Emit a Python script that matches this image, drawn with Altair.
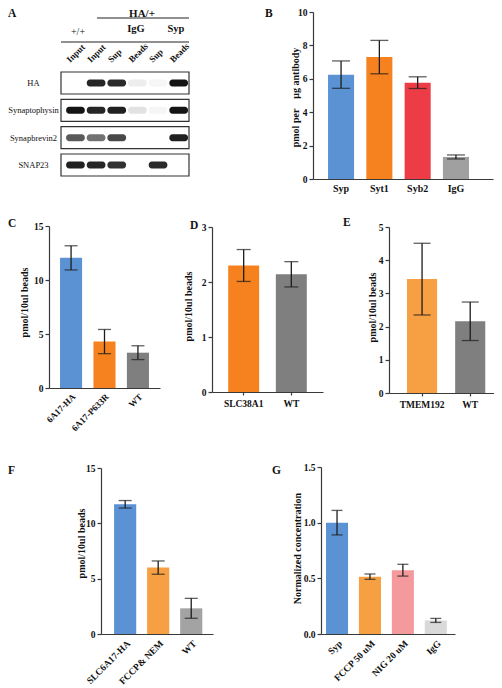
import altair as alt
import pandas as pd

# ---------------- data ----------------
# Panel A: western blot (band intensities, 0 = no band, 1 = strongest)
blot_lanes = ["wt_input", "ha_input", "igg_sup", "igg_beads", "syp_sup", "syp_beads"]
blot_lane_labels = ["Input", "Input", "Sup", "Beads", "Sup", "Beads"]
blot_proteins = ["HA", "Synaptophysin", "Synapbrevin2", "SNAP23"]
blot_intensity = [
    [0.00, 0.92, 0.90, 0.08, 0.04, 1.00],
    [1.00, 0.92, 0.95, 0.12, 0.04, 1.00],
    [0.70, 0.60, 0.78, 0.00, 0.00, 0.95],
    [0.95, 0.92, 0.88, 0.00, 0.90, 0.00],
]
blot_headers = ["HA/+", "+/+", "IgG", "Syp"]
panel_letters = ["A", "B", "C", "D", "E", "F", "G"]

# Panel B
b_cats = ["Syp", "Syt1", "Syb2", "IgG"]
b_vals = [6.25, 7.30, 5.77, 1.32]
b_errs = [0.82, 1.00, 0.35, 0.12]
b_colors = ["#5b92d3", "#f5821f", "#ee3c47", "#a0a0a0"]

# Panel C
c_cats = ["6A17-HA", "6A17-P633R", "WT"]
c_vals = [12.05, 4.30, 3.27]
c_errs = [1.12, 1.12, 0.64]
c_colors = ["#5b92d3", "#f5821f", "#7f7f7f"]

# Panel D
d_cats = ["SLC38A1", "WT"]
d_vals = [2.30, 2.14]
d_errs = [0.29, 0.23]
d_colors = ["#f5821f", "#7f7f7f"]

# Panel E
e_cats = ["TMEM192", "WT"]
e_vals = [3.43, 2.16]
e_errs = [1.08, 0.58]
e_colors = ["#f6a043", "#7f7f7f"]

# Panel F
f_cats = ["SLC6A17-HA", "FCCP& NEM", "WT"]
f_vals = [11.72, 6.00, 2.32]
f_errs = [0.34, 0.60, 0.90]
f_colors = ["#5b92d3", "#f6a043", "#a3a3a3"]

# Panel G
g_cats = ["Syp", "FCCP 50 uM", "NIG 20 uM", "IgG"]
g_vals = [1.00, 0.515, 0.573, 0.122]
g_errs = [0.11, 0.024, 0.053, 0.018]
g_colors = ["#5b92d3", "#f6a043", "#f49a9d", "#d9d9d9"]

# ---------------- styling ----------------
FONT = "Liberation Serif"
W, H = 486, 680
AX = "#3a3a3a"
ERR = "#1c1c1c"
TXT = "#111111"


def bar_panel(cats, vals, errs, colors, xr, pi, po, al, yr, ydom, yticks, yfmt,
              ytitle, tx, ty, angle, cap, xtick, lab_size=9.5, xlab_size=9.5, xpad=3):
    df = pd.DataFrame({"cat": cats, "val": vals, "err": errs})
    base = alt.Chart(df).transform_calculate(
        lo="datum.val - datum.err", hi="datum.val + datum.err"
    )
    xs = alt.Scale(domain=cats, range=xr, paddingInner=pi, paddingOuter=po, align=al)
    ys = alt.Scale(domain=ydom, range=yr, nice=False, zero=True)
    xaxis = alt.Axis(
        orient="bottom", offset=yr[0] - H, position=0, title=None, zindex=1,
        labelAngle=angle, labelPadding=xpad, ticks=xtick > 0, tickSize=xtick,
        tickColor=AX, tickWidth=1.2, domainColor=AX, domainWidth=1.2,
        labelFont=FONT, labelFontWeight="bold", labelFontSize=xlab_size,
        labelColor=TXT, labelOverlap=False, labelLimit=300, grid=False,
    )
    yaxis = alt.Axis(
        orient="left", offset=-xr[0], position=0, values=yticks, format=yfmt,
        zindex=1, title=ytitle, titleX=tx, titleY=ty, titleAngle=270,
        titleAlign="center", titleBaseline="middle", titleFont=FONT,
        titleFontWeight="bold", titleFontSize=10, titleColor=TXT, tickSize=4,
        tickColor=AX, tickWidth=1.2, domainColor=AX, domainWidth=1.2,
        labelPadding=2, labelFont=FONT, labelFontWeight="bold",
        labelFontSize=lab_size, labelColor=TXT, labelOverlap=False, grid=False,
    )
    bars = base.mark_bar().encode(
        x=alt.X("cat:N", sort=cats, scale=xs, axis=xaxis),
        y=alt.Y("val:Q", scale=ys, axis=yaxis),
        color=alt.Color("cat:N", scale=alt.Scale(domain=cats, range=colors), legend=None),
    )
    xe = alt.X("cat:N", sort=cats, scale=xs, axis=None)
    rule = base.mark_rule(color=ERR, strokeWidth=1.3).encode(
        x=xe, y=alt.Y("lo:Q", scale=ys, axis=None), y2="hi:Q"
    )
    cap_lo = base.mark_tick(color=ERR, thickness=1.3, size=cap).encode(
        x=xe, y=alt.Y("lo:Q", scale=ys, axis=None)
    )
    cap_hi = base.mark_tick(color=ERR, thickness=1.3, size=cap).encode(
        x=xe, y=alt.Y("hi:Q", scale=ys, axis=None)
    )
    return [bars, rule, cap_lo, cap_hi]


def txt(s, x, y, size=10, weight="normal", align="center", baseline="middle"):
    return alt.Chart(pd.DataFrame({"t": [s]})).mark_text(
        font=FONT, fontSize=size, fontWeight=weight, align=align,
        baseline=baseline, color=TXT,
    ).encode(x=alt.value(x), y=alt.value(y), text="t:N")


def hline(x1, x2, y):
    return alt.Chart(pd.DataFrame({"a": [0]})).mark_rule(
        color="#222222", strokeWidth=1.2
    ).encode(x=alt.value(x1), x2=alt.value(x2), y=alt.value(y))


# ---------------- panel A (blot) ----------------
blot_records = []
for i, p in enumerate(blot_proteins):
    for j, l in enumerate(blot_lanes):
        blot_records.append({"protein": p, "lane": l, "intensity": blot_intensity[i][j]})
df_blot = pd.DataFrame(blot_records)
df_prot = pd.DataFrame({"protein": blot_proteins})
df_lane = pd.DataFrame({"lane": blot_lanes, "label": blot_lane_labels})

lane_scale = alt.Scale(domain=blot_lanes, range=[53, 181], paddingInner=0,
                       paddingOuter=0.1, align=1)
prot_scale = alt.Scale(domain=blot_proteins, range=[64, 168],
                       paddingInner=0.195, paddingOuter=0)
yp = alt.Y("protein:N", sort=blot_proteins, scale=prot_scale, axis=None)

frames = alt.Chart(df_prot).mark_rect(
    fill="transparent", stroke="#333333", strokeWidth=1.2
).encode(y=yp, x=alt.value(53), x2=alt.value(181))
bands = alt.Chart(df_blot).mark_rect(
    color="#141414", width=alt.RelativeBandSize(band=0.9), height=7, cornerRadius=3
).encode(
    x=alt.X("lane:N", sort=blot_lanes, scale=lane_scale, axis=None),
    y=yp,
    opacity=alt.Opacity("intensity:Q", scale=None, legend=None),
)
row_labels = alt.Chart(df_prot).mark_text(
    font=FONT, fontSize=8.5, align="center", baseline="middle", color=TXT
).encode(y=yp, x=alt.value(25.5), text="protein:N")
lane_labels = alt.Chart(df_lane).mark_text(
    font=FONT, fontSize=9, fontWeight="bold", angle=315, align="left",
    baseline="alphabetic", color=TXT,
).encode(
    x=alt.X("lane:N", sort=blot_lanes, scale=lane_scale, axis=None, bandPosition=0.25),
    y=alt.value(55), text="label:N",
)
panel_a = alt.layer(frames, bands, row_labels, lane_labels)

a_deco = [
    txt(blot_headers[0], 134, 0, size=11, weight="bold", baseline="top"),
    hline(89, 181, 10),
    txt(blot_headers[1], 70, 24, size=10),
    txt(blot_headers[2], 128, 21, size=10.5, weight="bold"),
    txt(blot_headers[3], 168, 21, size=10.5, weight="bold"),
    hline(53, 181, 34),
]

# ---------------- bar panels ----------------
panel_b = bar_panel(b_cats, b_vals, b_errs, b_colors, [305, 485], 0.32, 0.51, 0.385,
                    [171, 4], [0, 10], [0, 2, 4, 6, 8, 10], "d",
                    "pmol per\u00a0\u00a0\u00a0\u00a0\u03bcg antibody", -18, 89, 0, 18, 0,
                    xlab_size=10, xpad=4)
panel_c = bar_panel(c_cats, c_vals, c_errs, c_colors, [41, 152], 0.34, 0.33, 0.5,
                    [380, 218], [0, 15], [0, 5, 10, 15], "d",
                    "pmol/10ul beads", -25, 294, 315, 13, 0, xlab_size=9, xpad=4)
panel_d = bar_panel(d_cats, d_vals, d_errs, d_colors, [204, 315], 0.35, 0.34, 0.5,
                    [384, 219], [0, 3], [0, 1, 2, 3], "d",
                    "pmol/10ul beads", -23.5, 298, 0, 14, 3, xpad=3)
panel_e = bar_panel(e_cats, e_vals, e_errs, e_colors, [381, 492], 0.375, 0.34, 0.55,
                    [385, 219], [0, 5], [0, 1, 2, 3, 4, 5], "d",
                    "pmol/10ul beads", -17, 299, 0, 17, 3, xpad=3)
panel_f = bar_panel(f_cats, f_vals, f_errs, f_colors, [93, 205], 0.33, 0.36, 0.55,
                    [626, 460], [0, 15], [0, 5, 10, 15], "d",
                    "pmol/10ul beads", -20, 535, 315, 13, 0, xpad=4)
panel_g = bar_panel(g_cats, g_vals, g_errs, g_colors, [313, 447], 0.33, 0.2, 0.38,
                    [626, 459], [0, 1.5], [0, 0.5, 1.0, 1.5], ".1f",
                    "Normalized concentration", -24, 540, 315, 11, 0, xpad=4)

letters = [
    txt(panel_letters[0], 0, 0, size=11.5, weight="bold", align="left", baseline="top"),
    txt(panel_letters[1], 257, 0, size=11.5, weight="bold", align="left", baseline="top"),
    txt(panel_letters[2], 0, 210, size=11.5, weight="bold", align="left", baseline="top"),
    txt(panel_letters[3], 182, 212, size=11.5, weight="bold", align="left", baseline="top"),
    txt(panel_letters[4], 335, 209, size=11.5, weight="bold", align="left", baseline="top"),
    txt(panel_letters[5], 0, 457, size=11.5, weight="bold", align="left", baseline="top"),
    txt(panel_letters[6], 264, 457, size=11.5, weight="bold", align="left", baseline="top"),
]

chart = alt.layer(
    panel_a, *a_deco, *panel_b, *panel_c, *panel_d, *panel_e, *panel_f, *panel_g,
    *letters
).resolve_scale(
    x="independent", y="independent", color="independent", opacity="independent"
).resolve_axis(
    x="independent", y="independent"
).properties(
    width=W, height=H, padding=0, autosize=alt.AutoSizeParams(type="none"),
    background="white",
).configure_view(stroke="transparent")

chart.save("out.html", embed_options={"renderer": "svg", "actions": False})
